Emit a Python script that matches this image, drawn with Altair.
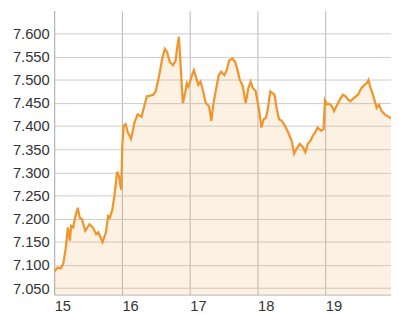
import altair as alt
import pandas as pd

day = [15.000, 15.048, 15.097, 15.135, 15.170, 15.203, 15.232, 15.251, 15.280, 15.314,
       15.348, 15.377, 15.410, 15.459, 15.522, 15.570, 15.619, 15.652, 15.714, 15.764,
       15.797, 15.822, 15.859, 15.894, 15.928, 15.957, 15.990, 16.004, 16.025, 16.054,
       16.087, 16.135, 16.184, 16.232, 16.290, 16.329, 16.367, 16.416, 16.464, 16.497,
       16.546, 16.594, 16.633, 16.667, 16.706, 16.754, 16.793, 16.812, 16.841, 16.859,
       16.884, 16.899, 16.932, 16.957, 16.981, 17.006, 17.029, 17.062, 17.091, 17.126,
       17.159, 17.199, 17.236, 17.286, 17.319, 17.352, 17.391, 17.430, 17.464, 17.512,
       17.546, 17.584, 17.633, 17.671, 17.706, 17.739, 17.778, 17.826, 17.865, 17.899,
       17.932, 17.971, 18.019, 18.058, 18.091, 18.126, 18.155, 18.188, 18.222, 18.251,
       18.286, 18.319, 18.359, 18.406, 18.454, 18.503, 18.541, 18.575, 18.623, 18.671,
       18.706, 18.743, 18.783, 18.816, 18.851, 18.888, 18.938, 18.975, 18.996, 19.025,
       19.058, 19.097, 19.130, 19.178, 19.227, 19.261, 19.300, 19.338, 19.372, 19.420,
       19.483, 19.532, 19.580, 19.613, 19.638, 19.662, 19.696, 19.725, 19.758, 19.793,
       19.830, 19.880, 19.938, 19.975]

rate = [7.0856, 7.0941, 7.0926, 7.1032, 7.1350, 7.1811, 7.1527, 7.1845, 7.1811, 7.2057,
        7.2236, 7.2023, 7.1987, 7.1739, 7.1881, 7.1811, 7.1669, 7.1705, 7.1493, 7.1705,
        7.2057, 7.2023, 7.2200, 7.2554, 7.3013, 7.2907, 7.2624, 7.3544, 7.4004, 7.4040,
        7.3862, 7.3722, 7.4074, 7.4253, 7.4202, 7.4429, 7.4641, 7.4656, 7.4677, 7.4747,
        7.5066, 7.5454, 7.5667, 7.5597, 7.5384, 7.5314, 7.5420, 7.5667, 7.5930, 7.5490,
        7.4854, 7.4499, 7.4711, 7.4924, 7.4854, 7.4960, 7.5087, 7.5208, 7.5066, 7.4890,
        7.4960, 7.4747, 7.4499, 7.4429, 7.4110, 7.4499, 7.4817, 7.5102, 7.5172, 7.5102,
        7.5208, 7.5420, 7.5454, 7.5384, 7.5208, 7.4996, 7.4890, 7.4499, 7.4817, 7.4960,
        7.4817, 7.4762, 7.4393, 7.3968, 7.4146, 7.4180, 7.4393, 7.4747, 7.4711, 7.4677,
        7.4359, 7.4146, 7.4110, 7.4004, 7.3862, 7.3686, 7.3403, 7.3510, 7.3616, 7.3544,
        7.3437, 7.3616, 7.3686, 7.3792, 7.3862, 7.3968, 7.3898, 7.3934, 7.4556, 7.4471,
        7.4482, 7.4429, 7.4323, 7.4465, 7.4605, 7.4677, 7.4641, 7.4571, 7.4535, 7.4605,
        7.4677, 7.4817, 7.4890, 7.4924, 7.4996, 7.4854, 7.4711, 7.4571, 7.4393, 7.4465,
        7.4323, 7.4253, 7.4195, 7.4168]

x_ticks = [15, 16, 17, 18, 19]
y_ticks = [7.05, 7.10, 7.15, 7.20, 7.25, 7.30, 7.35, 7.40, 7.45, 7.50, 7.55, 7.60]

df = pd.DataFrame({"day": day, "rate": rate})

font = "Liberation Sans"

x_enc = alt.X(
    "day:Q",
    scale=alt.Scale(domain=[15, 19.97], nice=False, zero=False),
    axis=alt.Axis(values=x_ticks, format="d", labelAlign="left", labelBaseline="top",
                  labelFontSize=15, labelColor="#333333", labelFont=font, ticks=False,
                  domainColor="#b5b5b5", gridColor="#b8b8b8", labelPadding=4,
                  labelFlush=False, labelOverlap=False, title=None),
)
y_enc = alt.Y(
    "rate:Q",
    scale=alt.Scale(domain=[7.036, 7.649], nice=False, zero=False),
    axis=alt.Axis(values=y_ticks, format=".3f", labelFontSize=15, labelColor="#333333",
                  labelFont=font, ticks=False, domainColor="#b5b5b5", gridColor="#cccccc",
                  labelPadding=5, labelOverlap=False, labelFlush=False, title=None),
)

base = alt.Chart(df).encode(x=x_enc, y=y_enc)
area = base.mark_area(color="#f4a444", opacity=0.15, clip=True)
line = base.mark_line(color="#f0962e", strokeWidth=2.3, clip=True)

chart = alt.layer(area, line).properties(
    width=343, height=289,
    autosize=alt.AutoSizeParams(type="none"),
    padding={"left": 47, "top": 0, "right": 0, "bottom": 22},
).configure_view(stroke=None).configure_axis(labelOverlap=False, labelFontSize=15)

chart.save("out.html", embed_options={"renderer": "svg", "actions": False})
